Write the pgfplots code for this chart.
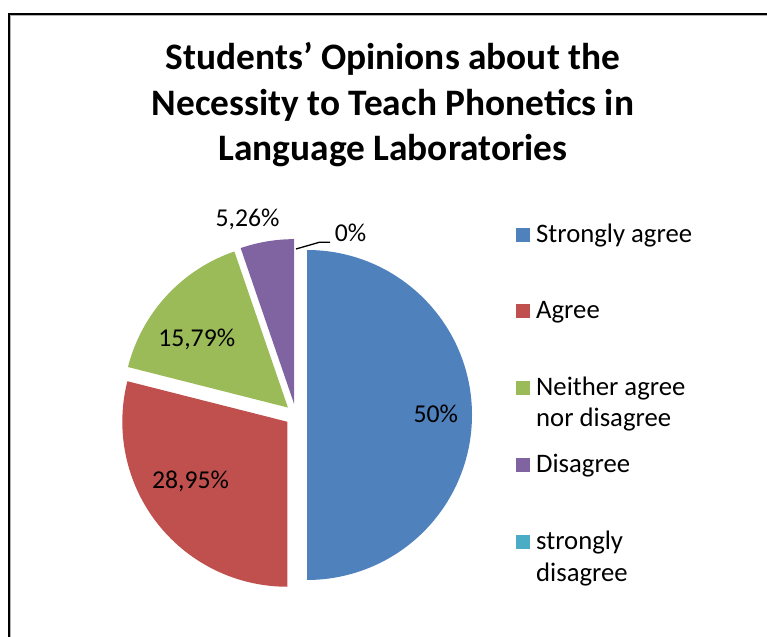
\documentclass[border=0pt]{standalone}
\usepackage{pgfplots}
\pgfplotsset{compat=1.18}
\usepackage{fontspec}
\setmainfont{Carlito}
\usetikzlibrary{calc}
\definecolor{pieA}{HTML}{4F81BD}
\definecolor{pieB}{HTML}{C0504D}
\definecolor{pieC}{HTML}{9BBB59}
\definecolor{pieD}{HTML}{8064A2}
\definecolor{pieE}{HTML}{4BACC6}
\begin{document}
\begin{tikzpicture}
\begin{axis}[
  scale only axis, width=767bp, height=637bp,
  xmin=0, xmax=767, ymin=0, ymax=637,
  hide axis, clip=false]
\pgfplotsextra{
  % frame
  \draw[black, line width=2bp] (axis cs:9,0) -- (axis cs:9,623) -- (axis cs:767,623);
  \draw[gray!60, line width=1bp] (axis cs:10.5,0) -- (axis cs:10.5,621.5) -- (axis cs:767,621.5);
  % pie slices (percent values)
  \gdef\startang{90}
  \foreach \v/\c in {50/pieA, 28.95/pieB, 15.79/pieC, 5.26/pieD, 0/pieE}{
    \pgfmathsetmacro\endang{\startang - 3.6*\v}
    \pgfmathsetmacro\midang{(\startang+\endang)/2}
    \ifdim \v pt > 0pt
      \fill[\c] ($(axis cs:296,222)+(\midang:11bp)$) -- ++(\startang:165bp)
        arc[start angle=\startang, end angle=\endang, radius=165bp] -- cycle;
    \fi
    \xdef\startang{\endang}
  }
  % data labels
  \begingroup\fontsize{25.8}{30}\selectfont
  \node[anchor=base, inner sep=0pt] at (axis cs:435.8,214.3) {50\%};
  \node[anchor=base, inner sep=0pt] at (axis cs:190.5,148.7) {28,95\%};
  \node[anchor=base, inner sep=0pt] at (axis cs:196.7,290.3) {15,79\%};
  \node[anchor=base, inner sep=0pt] at (axis cs:247.5,410.3) {5,26\%};
  \node[anchor=base, inner sep=0pt] at (axis cs:350.5,395.3) {0\%};
  \endgroup
  \draw[black, line width=1.3bp] (axis cs:296,388) -- (axis cs:319.3,394.7) -- (axis cs:330,394.7);
  % title
  \begingroup\fontsize{37.5}{46}\selectfont\bfseries
  \node[anchor=base, inner sep=0pt] at (axis cs:393,567.7) {Students’ Opinions about the};
  \node[anchor=base, inner sep=0pt] at (axis cs:393,521.7) {Necessity to Teach Phonetics in};
  \node[anchor=base, inner sep=0pt] at (axis cs:393,476) {Language Laboratories};
  \endgroup
  % legend
  \begingroup\fontsize{26.8}{31}\selectfont
  \fill[pieA] (axis cs:515.5,395) rectangle (axis cs:529.5,409);
  \node[anchor=base west, inner sep=0pt] at (axis cs:536,394.5) {Strongly agree};
  \fill[pieB] (axis cs:515.5,319.2) rectangle (axis cs:529.5,333.2);
  \node[anchor=base west, inner sep=0pt] at (axis cs:536,318.7) {Agree};
  \fill[pieC] (axis cs:515.5,241.5) rectangle (axis cs:529.5,255.5);
  \node[anchor=base west, inner sep=0pt] at (axis cs:536,241) {Neither agree};
  \node[anchor=base west, inner sep=0pt] at (axis cs:536,210.3) {nor disagree};
  \fill[pieD] (axis cs:515.5,164.8) rectangle (axis cs:529.5,178.8);
  \node[anchor=base west, inner sep=0pt] at (axis cs:536,164.3) {Disagree};
  \fill[pieE] (axis cs:515.5,87.5) rectangle (axis cs:529.5,101.5);
  \node[anchor=base west, inner sep=0pt] at (axis cs:536,87) {strongly};
  \node[anchor=base west, inner sep=0pt] at (axis cs:536,55.3) {disagree};
  \endgroup
}
\end{axis}
\pgfresetboundingbox
\useasboundingbox (current axis.south west) rectangle (current axis.north east);
\end{tikzpicture}
\end{document}
